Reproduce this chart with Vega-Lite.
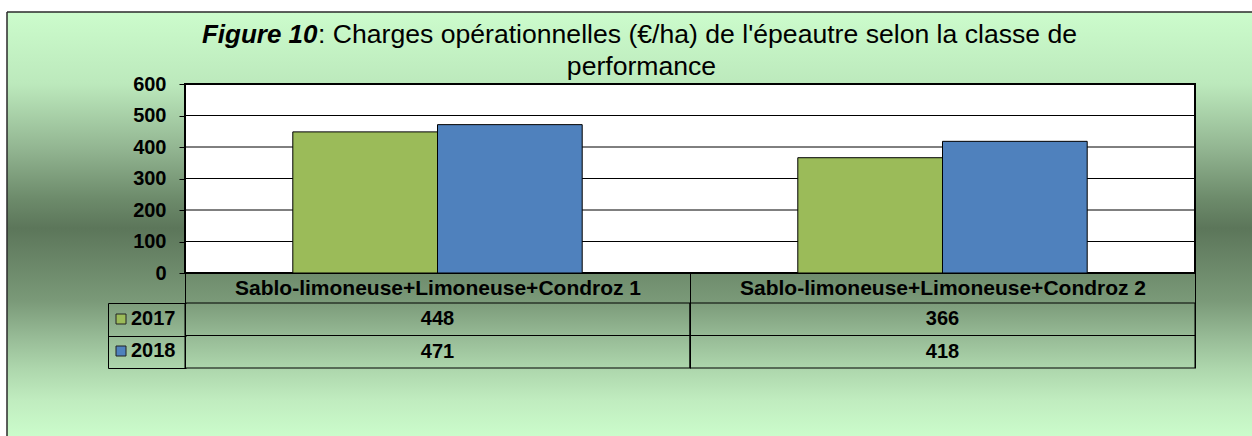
{
  "$schema": "https://vega.github.io/schema/vega-lite/v6.json",
  "width": 1245,
  "height": 424,
  "autosize": {"type": "none"},
  "padding": {"left": 7, "top": 12, "right": 0, "bottom": 0},
  "background": "white",
  "config": {
    "view": {"stroke": null},
    "font": "Liberation Sans",
    "axis": {"labelFont": "Liberation Sans", "titleFont": "Liberation Sans"},
    "legend": {"labelFont": "Liberation Sans"}
  },
  "datasets": {
    "charges": [
      {"categorie": "Sablo-limoneuse+Limoneuse+Condroz 1", "annee": "2017", "valeur": 448},
      {"categorie": "Sablo-limoneuse+Limoneuse+Condroz 1", "annee": "2018", "valeur": 471},
      {"categorie": "Sablo-limoneuse+Limoneuse+Condroz 2", "annee": "2017", "valeur": 366},
      {"categorie": "Sablo-limoneuse+Limoneuse+Condroz 2", "annee": "2018", "valeur": 418}
    ],
    "graduations": [{"v": 100}, {"v": 200}, {"v": 300}, {"v": 400}, {"v": 500}]
  },
  "resolve": {"scale": {"x": "independent", "y": "independent"}, "axis": {"x": "independent", "y": "independent"}},
  "layer": [
    {
      "data": {"values": [{}]},
      "mark": {
        "type": "rect",
        "stroke": "#2b2b2b",
        "strokeWidth": 1.5,
        "strokeDash": [1245, 1669, 424, 0],
        "fill": {
          "gradient": "linear", "x1": 0, "y1": 0, "x2": 0, "y2": 1,
          "stops": [
            {"offset": 0, "color": "#ccfccc"},
            {"offset": 0.17, "color": "#bce9bc"},
            {"offset": 0.32, "color": "#93b692"},
            {"offset": 0.44, "color": "#6d8b6b"},
            {"offset": 0.51, "color": "#5c765a"},
            {"offset": 0.68, "color": "#7a9978"},
            {"offset": 0.77, "color": "#98bc97"},
            {"offset": 0.84, "color": "#add6ac"},
            {"offset": 0.915, "color": "#c0ecbf"},
            {"offset": 1, "color": "#cbfccb"}
          ]
        }
      },
      "encoding": {}
    },
    {
      "layer": [
        {
          "data": {"values": [{}]},
          "mark": {"type": "rect", "fill": "white", "stroke": "black", "strokeWidth": 2},
          "encoding": {
            "x": {
              "datum": 0, "type": "quantitative",
              "scale": {"domain": [0, 1], "range": [178, 1188], "nice": false, "zero": false},
              "axis": {
                "orient": "top", "zindex": 2, "domain": false, "ticks": false, "labels": false, "grid": false,
                "title": "Figure 10", "titleX": 310, "titleY": 30, "titleAlign": "right", "titleBaseline": "alphabetic",
                "titleFontSize": 26, "titleFontWeight": "bold", "titleFontStyle": "italic", "titleColor": "black"
              }
            },
            "x2": {"datum": 1},
            "y": {
              "datum": 0, "type": "quantitative",
              "scale": {"domain": [0, 600], "range": [261, 72], "nice": false},
              "axis": {
                "orient": "left", "zindex": 2, "offset": -178, "values": [0, 100, 200, 300, 400, 500, 600],
                "domain": false, "ticks": true, "tickSize": 6, "tickColor": "black", "tickWidth": 1,
                "labelFontSize": 20, "labelFontWeight": "bold", "labelColor": "black", "labelPadding": 13,
                "grid": false, "title": null
              }
            },
            "y2": {"datum": 600}
          }
        },
        {
          "data": {"name": "graduations"},
          "mark": {"type": "rule", "color": "black", "strokeWidth": 1},
          "encoding": {
            "x": {"datum": 0, "type": "quantitative"},
            "x2": {"datum": 1},
            "y": {"field": "v", "type": "quantitative"}
          }
        }
      ]
    },
    {
      "data": {"name": "charges"},
      "resolve": {"scale": {"y": "independent"}, "axis": {"y": "independent"}},
      "layer": [
        {
          "mark": {"type": "bar", "stroke": "black", "strokeWidth": 1},
          "encoding": {
            "x": {
              "field": "categorie", "type": "nominal",
              "scale": {"range": [178, 1188], "paddingInner": 0, "paddingOuter": 0},
              "axis": {
                "orient": "bottom", "zindex": 2, "offset": -163, "domain": false,
                "ticks": true, "tickBand": "extent", "tickSize": 95, "tickColor": "black", "tickWidth": 1,
                "labelFontSize": 21, "labelFontWeight": "bold", "labelColor": "black", "labelAngle": 0,
                "labelBaseline": "middle", "labelPadding": -80, "labelLimit": 800, "grid": false,
                "title": ": Charges opérationnelles (€/ha) de l'épeautre selon la classe de",
                "titleX": 310.5, "titleY": -231, "titleAlign": "left", "titleBaseline": "alphabetic",
                "titleFontSize": 26.6, "titleFontWeight": "normal", "titleColor": "black"
              }
            },
            "xOffset": {
              "field": "annee", "type": "nominal",
              "scale": {"paddingInner": 0, "paddingOuter": 0.745}
            },
            "y": {
              "field": "valeur", "type": "quantitative",
              "scale": {"domain": [0, 600], "range": [261, 72], "nice": false},
              "axis": null
            },
            "fill": {
              "field": "annee", "type": "nominal",
              "scale": {"domain": ["2017", "2018"], "range": ["#9bbb59", "#4f81bd"]},
              "legend": {
                "orient": "none", "zindex": 2, "legendX": 104, "legendY": 297, "title": null,
                "symbolType": "square", "symbolSize": 100, "symbolStrokeColor": "#222222", "symbolStrokeWidth": 1,
                "labelFontSize": 20, "labelFontWeight": "bold", "labelColor": "black",
                "labelOffset": 0, "rowPadding": 12, "padding": 0
              }
            }
          }
        },
        {
          "layer": [
            {
              "mark": {"type": "rect", "fill": null, "stroke": "black", "strokeWidth": 1},
              "encoding": {
                "x": {"field": "categorie", "type": "nominal"},
                "y": {
                  "field": "annee", "type": "nominal",
                  "scale": {"domain": ["2017", "2018"], "range": [291, 356], "paddingInner": 0, "paddingOuter": 0},
                  "axis": {
                    "orient": "left", "zindex": 2, "offset": -101, "domain": true, "domainColor": "black", "domainWidth": 1,
                    "ticks": true, "tickBand": "extent", "tickSize": -78, "tickColor": "black", "tickWidth": 1,
                    "labels": false, "grid": false,
                    "title": "performance", "titleAngle": 0, "titleX": 533, "titleY": 62, "titleAlign": "center",
                    "titleBaseline": "alphabetic", "titleFontSize": 26.6, "titleFontWeight": "normal", "titleColor": "black"
                  }
                }
              }
            },
            {
              "mark": {"type": "text", "fontSize": 20, "fontWeight": "bold", "color": "black", "baseline": "middle"},
              "encoding": {
                "x": {"field": "categorie", "type": "nominal"},
                "y": {"field": "annee", "type": "nominal"},
                "text": {"field": "valeur", "type": "quantitative"}
              }
            }
          ]
        }
      ]
    }
  ]
}
